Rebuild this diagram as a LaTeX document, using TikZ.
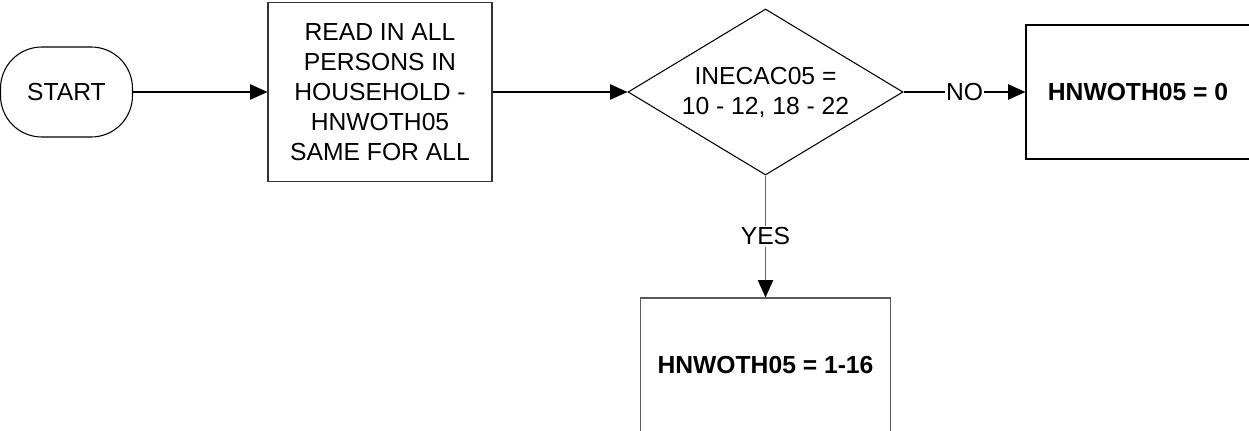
\documentclass[tikz,border=0pt]{standalone}
\usepackage{fontspec}
\setmainfont{Liberation Sans}
\usetikzlibrary{arrows.meta,shapes.geometric}
\tikzset{
  base/.style={draw=black, line width=0.8pt, inner sep=0pt, align=center,
    font=\fontsize{18.5}{22.5}\selectfont},
  procbox/.style={base, rectangle},
  startbox/.style={base, rectangle, rounded corners=31pt},
  decision/.style={base, diamond, aspect=1.66},
  arr/.style={draw=black, line width=0.8pt, -{Triangle[length=13pt,width=11.5pt,color=black]}},
  lbl/.style={fill=white, inner sep=1pt, font=\fontsize{18.5}{22.5}\selectfont}
}
\begin{document}
\begin{tikzpicture}[x=0.75pt,y=-0.75pt]
\useasboundingbox (0,0) rectangle (1249,431);
\clip (0,0) rectangle (1249,431);
\node[startbox, minimum width=99pt, minimum height=67.5pt] (start) at (66.5,92) {START};
\node[procbox, draw=black!80, minimum width=168pt, minimum height=134.25pt] (read) at (380,92)
  {READ IN ALL\\PERSONS IN\\HOUSEHOLD -\\HNWOTH05\\SAME FOR ALL};
\node[decision, minimum width=206.25pt, minimum height=124.5pt] (dec) at (765.5,92)
  {INECAC05 =\\10 - 12, 18 - 22};
\node[procbox, minimum width=168pt, minimum height=100.5pt, font=\fontsize{18.5}{22.5}\selectfont\bfseries] (no) at (1138,92)
  {HNWOTH05 = 0};
\node[procbox, draw=black!65, minimum width=187.5pt, minimum height=100.5pt, font=\fontsize{18.5}{22.5}\selectfont\bfseries] (yes) at (765.5,365)
  {HNWOTH05 = 1-16};
\draw[arr] (start) -- (read);
\draw[arr] (read) -- (dec);
\draw[arr] (dec) -- node[lbl] {NO} (no);
\draw[arr, draw=black!60] (dec) -- node[lbl] {YES} (yes);
\end{tikzpicture}
\end{document}
